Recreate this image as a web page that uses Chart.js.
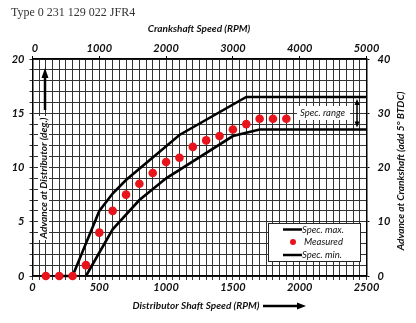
<!DOCTYPE html>
<html>
<head>
<meta charset="utf-8">
<script src="https://cdn.jsdelivr.net/npm/chart.js@4.4.1/dist/chart.umd.min.js"></script>
<style>
  html, body { margin: 0; padding: 0; background: #fff; }
  canvas { display: block; }
</style>
</head>
<body>
<canvas id="advanceChart" width="416" height="323"></canvas>
<script>
// distributor rpm / advance (deg)
const measuredRpm = [100, 200, 300, 400, 500, 600, 700, 800, 900, 1000, 1100, 1200, 1300, 1400, 1500, 1600, 1700, 1800, 1900];
const measuredAdv = [0, 0, 0, 1, 4, 6, 7.5, 8.5, 9.5, 10.5, 10.9, 11.9, 12.5, 12.9, 13.5, 14, 14.5, 14.5, 14.5];

const maxRpm = [200, 300, 500, 600, 700, 1100, 1600, 2500];
const maxAdv = [0, 0, 6, 7.6, 8.85, 13, 16.5, 16.5];

const minRpm = [400, 600, 800, 1000, 1500, 1700, 2500];
const minAdv = [0, 4.3, 7.0, 9.0, 12.9, 13.5, 13.5];

// crankshaft rpm labels on the top axis (crank = 2 x distributor)
const crankTicks = [0, 1000, 2000, 3000, 4000, 5000];

const FONT = 'Lato, "Open Sans", sans-serif';
const tickFont = { family: FONT, size: 11, weight: 'bold', style: 'italic' };

function pts(xs, ys) {
  return xs.map((x, i) => ({ x: x, y: ys[i] }));
}

function arrowHead(ctx, x, y, dir, w, h) {
  // dir: 'up' | 'down' | 'right'
  ctx.beginPath();
  if (dir === 'up') {
    ctx.moveTo(x, y); ctx.lineTo(x - w / 2, y + h); ctx.lineTo(x + w / 2, y + h);
  } else if (dir === 'down') {
    ctx.moveTo(x, y); ctx.lineTo(x - w / 2, y - h); ctx.lineTo(x + w / 2, y - h);
  } else {
    ctx.moveTo(x, y); ctx.lineTo(x - h, y - w / 2); ctx.lineTo(x - h, y + w / 2);
  }
  ctx.closePath();
  ctx.fill();
}

// titles, legend box and arrows drawn on top of the chart
const extras = {
  id: 'extras',
  afterDraw(chart) {
    const ctx = chart.ctx;
    const sx = chart.scales.x;
    const sy = chart.scales.y;
    ctx.save();

    ctx.fillStyle = '#333';
    ctx.font = '12px "Liberation Serif", serif';
    ctx.textBaseline = 'middle';
    ctx.textAlign = 'left';
    ctx.fillText('Type 0 231 129 022 JFR4', 11, 13);

    ctx.fillStyle = '#111';
    ctx.textAlign = 'center';
    ctx.font = 'italic bold 10px ' + FONT;
    ctx.fillText('Crankshaft Speed (RPM)', 199, 29);
    ctx.fillText('Distributor Shaft Speed (RPM)', 196, 306);

    // arrow after the bottom title
    ctx.strokeStyle = '#000';
    ctx.fillStyle = '#000';
    ctx.lineWidth = 2.5;
    ctx.beginPath();
    ctx.moveTo(263, 306); ctx.lineTo(298, 306); ctx.stroke();
    arrowHead(ctx, 306, 306, 'right', 7, 9);

    // left title, white box behind it
    ctx.fillStyle = '#fff';
    ctx.fillRect(38, 116, 11, 124);
    ctx.fillStyle = '#111';
    ctx.save();
    ctx.translate(44, 178);
    ctx.rotate(-Math.PI / 2);
    ctx.fillText('Advance at Distributor (deg.)', 0, 0);
    ctx.restore();

    // up arrow above it
    ctx.fillStyle = '#000';
    ctx.beginPath();
    ctx.moveTo(45, 110); ctx.lineTo(45, 76); ctx.stroke();
    arrowHead(ctx, 45, 68, 'up', 7, 10);

    // right title
    ctx.fillStyle = '#111';
    ctx.save();
    ctx.translate(401, 171);
    ctx.rotate(-Math.PI / 2);
    ctx.fillText('Advance at Crankshaft (add 5\u00b0 BTDC)', 0, 0);
    ctx.restore();

    // spec range label and double arrow
    const yTop = sy.getPixelForValue(maxAdv[maxAdv.length - 1]);
    const yBot = sy.getPixelForValue(minAdv[minAdv.length - 1]);
    ctx.fillStyle = '#fff';
    ctx.fillRect(297, 106, 53, 14);
    ctx.fillStyle = '#111';
    ctx.font = 'italic 9.5px ' + FONT;
    ctx.textAlign = 'left';
    ctx.fillText('Spec. range', 300, 113);
    ctx.fillStyle = '#000';
    ctx.lineWidth = 1.5;
    ctx.beginPath();
    ctx.moveTo(357, yTop + 5); ctx.lineTo(357, yBot - 5); ctx.stroke();
    arrowHead(ctx, 357, yTop + 2, 'up', 5, 6);
    arrowHead(ctx, 357, yBot - 2, 'down', 5, 6);

    // legend box
    ctx.fillStyle = '#fff';
    ctx.fillRect(268, 223, 92, 38);
    ctx.strokeStyle = '#222';
    ctx.lineWidth = 1;
    ctx.strokeRect(268.5, 223.5, 92, 38);
    const rows = [229.5, 242, 255];
    chart.data.datasets.forEach((ds, i) => {
      const y = rows[i];
      if (ds.showLine) {
        ctx.strokeStyle = ds.borderColor;
        ctx.lineWidth = 2.5;
        ctx.beginPath();
        ctx.moveTo(283, y); ctx.lineTo(302, y); ctx.stroke();
      } else {
        ctx.fillStyle = ds.backgroundColor;
        ctx.beginPath();
        ctx.arc(293, y, 3, 0, Math.PI * 2);
        ctx.fill();
      }
      ctx.fillStyle = '#111';
      ctx.font = 'italic 9.5px ' + FONT;
      ctx.fillText(ds.label, ds.showLine ? 302 : 304, y);
    });

    // crankshaft tick labels along the top, drawn last
    ctx.font = 'italic bold 11px ' + FONT;
    ctx.textAlign = 'center';
    ctx.textBaseline = 'alphabetic';
    ctx.fillStyle = '#111';
    crankTicks.forEach(v => {
      const px = Math.max(sx.getPixelForValue(v / 2), 35);
      ctx.fillText(v === 0 ? '0' : String(v), px, 52);
    });

    ctx.restore();
  }
};

const ctx = document.getElementById('advanceChart');

new Chart(ctx, {
  type: 'scatter',
  data: {
    datasets: [
      {
        label: 'Spec. max.',
        data: pts(maxRpm, maxAdv),
        showLine: true,
        borderColor: '#000',
        borderWidth: 2.6,
        pointRadius: 0,
        clip: false,
        order: 2
      },
      {
        label: 'Measured',
        data: pts(measuredRpm, measuredAdv),
        showLine: false,
        backgroundColor: '#e8141b',
        borderWidth: 0,
        pointRadius: 4.3,
        clip: false,
        order: 1
      },
      {
        label: 'Spec. min.',
        data: pts(minRpm, minAdv),
        showLine: true,
        borderColor: '#000',
        borderWidth: 2.6,
        pointRadius: 0,
        clip: false,
        order: 2
      }
    ]
  },
  options: {
    responsive: false,
    animation: false,
    layout: { padding: 0 },
    plugins: {
      legend: { display: false },
      tooltip: { enabled: false }
    },
    scales: {
      x: {
        type: 'linear',
        position: 'bottom',
        min: 0,
        max: 2500,
        ticks: {
          stepSize: 50,
          autoSkip: false,
          maxRotation: 0,
          padding: 1,
          color: '#111',
          font: tickFont,
          callback: v => (v % 500 === 0 ? String(v) : '')
        },
        grid: { color: '#333', lineWidth: 1, tickLength: 4 },
        border: { color: '#000', width: 1.5 },
        afterFit: s => { s.height = 47; }
      },
      x2: {
        type: 'linear',
        position: 'top',
        min: 0,
        max: 5000,
        ticks: { stepSize: 1000, display: false },
        grid: { drawOnChartArea: false, color: '#000', tickLength: 3 },
        border: { color: '#000', width: 1.5 },
        afterFit: s => { s.height = 59; }
      },
      y: {
        type: 'linear',
        position: 'left',
        min: 0,
        max: 20,
        ticks: {
          stepSize: 1,
          autoSkip: false,
          padding: 5,
          color: '#111',
          font: tickFont,
          callback: v => (v % 5 === 0 ? String(v) : '')
        },
        grid: { color: '#333', lineWidth: 1, tickLength: 3 },
        border: { color: '#000', width: 1.5 },
        afterFit: s => { s.width = 32.5; }
      },
      y2: {
        type: 'linear',
        position: 'right',
        min: 0,
        max: 40,
        ticks: { stepSize: 10, padding: 8, color: '#111', font: tickFont },
        grid: { drawOnChartArea: false, color: '#000', tickLength: 3 },
        border: { color: '#000', width: 1.5 },
        afterFit: s => { s.width = 49.5; }
      }
    }
  },
  plugins: [extras]
});
</script>
</body>
</html>
